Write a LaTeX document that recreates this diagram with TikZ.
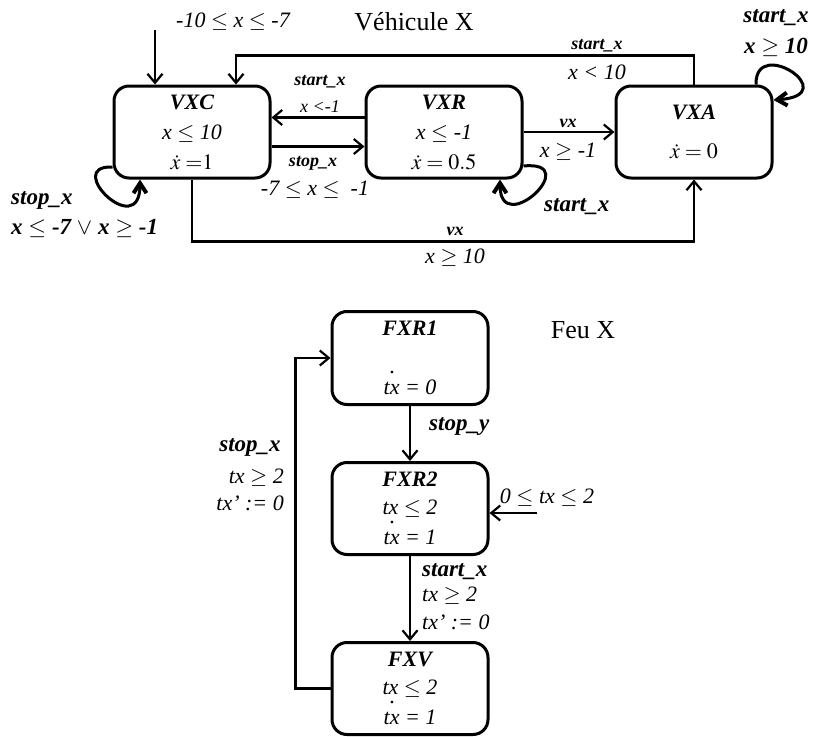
\documentclass[tikz,border=0pt]{standalone}
\usepackage{mathptmx}
\usepackage[no-math]{fontspec}
\setmainfont{Liberation Serif}
\usetikzlibrary{arrows.meta,positioning}

\newcommand\tdot{\rlap{\kern0.28em\raisebox{0.95em}{.}}}
\newcommand\lesym{\ensuremath{\leq}}
\newcommand\gesym{\ensuremath{\geq}}

\tikzset{
  loc/.style={draw,line width=3pt,rounded corners=15pt,minimum width=156pt,
    minimum height=92pt,align=center,inner sep=0pt,
    font=\fontsize{22}{25}\selectfont\itshape},
  trans/.style={line width=2.2pt,-{Straight Barb[length=9pt,width=15pt,line width=2.2pt]}},
  loopy/.style={line width=3pt,-{Straight Barb[length=10pt,width=13pt,line width=4pt]}},
  lbl/.style={inner sep=1pt,font=\fontsize{22}{24}\selectfont\itshape},
  sync/.style={inner sep=1pt,font=\fontsize{18}{20}\selectfont\bfseries\itshape},
  bsync/.style={inner sep=1pt,font=\fontsize{23}{25}\selectfont\bfseries\itshape},
  ttl/.style={inner sep=0pt,font=\fontsize{26}{30}\selectfont}
}

\begin{document}
\begin{tikzpicture}[x=1pt,y=-1pt]
  \useasboundingbox (0,0) rectangle (815,737);

  % Vehicule X
  \node[ttl] (vtitle) at (414,22) {Véhicule X};
  \node[loc] (VXC) at (192,132) {\textbf{VXC}\\[5pt] x \lesym{} 10\\[5pt] $\dot{x}\;{=}1$};
  \node[loc,right=93pt of VXC] (VXR) {\textbf{VXR}\\[5pt] x \lesym{} -1\\[5pt] $\dot{x} = 0.5$};
  \node[loc,right=91pt of VXR] (VXA) {\textbf{VXA}\\[14pt] $\dot{x} = 0$};

  \coordinate (vini) at (155,30);
  \draw[trans] (vini) -- (vini |- VXC.north);
  \node[lbl] (vinilbl) at (233,22) {-10 \lesym{} x \lesym{} -7};

  \draw[trans] (VXA.north) -- ++(0,-29) -| ([xshift=44pt]VXC.north);
  \node[sync] (acsync) at (597,46) {start\_x};
  \node[lbl] (acguard) at (597,72) {x < 10};

  \draw[trans] ([yshift=14.5pt]VXR.west) -- ([yshift=14.5pt]VXC.east);
  \node[sync] (rcsync) at (320,82) {start\_x};
  \node[lbl,font=\fontsize{18}{20}\selectfont\itshape] (rcguard) at (320,107) {x <-1};

  \draw[trans] ([yshift=-14.5pt]VXC.east) -- ([yshift=-14.5pt]VXR.west);
  \node[sync] (crsync) at (313,163) {stop\_x};
  \node[lbl] (crguard) at (315,190) {-7 \lesym{} x \lesym{} ~-1};

  \draw[trans] (VXR.east) -- (VXA.west);
  \node[sync] (rasync) at (568,123) {vx};
  \node[lbl] (raguard) at (568,152) {x \gesym{} -1};

  \draw[trans] (VXC.south) -- ++(0,62) -| (VXA.south);
  \node[sync] (casync) at (455,231) {vx};
  \node[lbl] (caguard) at (455,258) {x \gesym{} 10};

  % self loops
  \draw[loopy] ([yshift=-35pt]VXC.west) .. controls (62,165) and (140,242) .. ([xshift=-52pt]VXC.south);
  \node[bsync,anchor=west] (cloop) at (10,200) {stop\_x};
  \node[bsync,anchor=west] (cloopg) at (10,228) {{\boldmath x \lesym{} -7 $\vee$ x \gesym{} -1}};

  \draw[loopy] ([yshift=-34pt]VXR.east) .. controls (585,160) and (500,240) .. ([xshift=56pt]VXR.south);
  \node[bsync,anchor=west] (rloop) at (543,207) {start\_x};

  \draw[loopy] ([xshift=62pt]VXA.north) .. controls (755,35) and (845,95) .. ([yshift=32pt]VXA.east);
  \node[bsync] (aloop) at (776,18) {start\_x};
  \node[bsync] (aloopg) at (776,47) {{\boldmath x \gesym{} 10}};

  % Feu X
  \node[ttl] (ftitle) at (583,330) {Feu X};
  \node[loc,minimum height=93pt] (FXR1) at (410,358) {\textbf{FXR1}\\[34pt] \tdot tx = 0};
  \node[loc,below=55pt of FXR1] (FXR2) {\textbf{FXR2}\\[3pt] tx \lesym{} 2\\[3pt] \tdot tx = 1};
  \node[loc,below=85pt of FXR2] (FXV) {\textbf{FXV}\\[3pt] tx \lesym{} 2\\[3pt] \tdot tx = 1};

  \draw[trans] (FXR1) -- (FXR2);
  \node[bsync,anchor=west] (f12sync) at (428,427) {stop\_y};

  \draw[trans] (FXR2) -- (FXV);
  \node[bsync,anchor=west] (f2vsync) at (421,572) {start\_x};
  \node[lbl,anchor=west] (f2vguard) at (421,596) {tx \gesym{} 2};
  \node[lbl,anchor=west] (f2vreset) at (421,622) {tx’ := 0};

  \draw[trans] (FXV.west) -- ++(-35,0) |- (FXR1.west);
  \node[bsync] (fv1sync) at (250,447) {stop\_x};
  \node[lbl,anchor=east] (fv1guard) at (285,478) {tx \gesym{} 2};
  \node[lbl,anchor=east] (fv1reset) at (285,503) {tx’ := 0};

  \coordinate (fini) at (537,513);
  \draw[trans] (fini) -- (fini -| FXR2.east);
  \node[lbl] (finilbl) at (547,498) {0 \lesym{} tx \lesym{} 2};
\end{tikzpicture}
\end{document}
